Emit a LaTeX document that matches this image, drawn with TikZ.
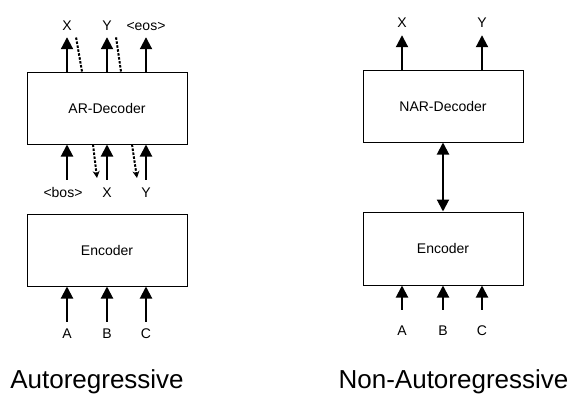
\documentclass[tikz,border=0pt]{standalone}
\usepackage{fontspec}
\setmainfont{Liberation Sans}
\usetikzlibrary{arrows.meta}
\begin{document}
\begin{tikzpicture}[x=1pt,y=-1pt,
 box/.style={draw, line width=1pt, minimum width=160pt, minimum height=72pt, inner sep=0pt, font=\fontsize{14}{16}\selectfont},
 lbl/.style={inner sep=0pt, anchor=base, text height=10pt, text depth=3pt, font=\fontsize{14}{16}\selectfont},
 titletext/.style={inner sep=0pt, anchor=base, font=\fontsize{26}{30}\selectfont},
 arr/.style={line width=2pt, -{Triangle[width=12pt,length=12pt]}},
 darr/.style={line width=2pt, {Triangle[width=12pt,length=12pt]}-{Triangle[width=12pt,length=12pt]}},
 dotline/.style={line width=2pt, dash pattern=on 2.5pt off 1.5pt},
 dotarr/.style={dotline, -{Stealth[length=7pt,width=7pt]}}
]
\useasboundingbox (0,0) rectangle (579,400);

% ---------- Autoregressive ----------
\node[box] (ardec) at (107,108) {AR-Decoder};
\node[box] (arenc) at (107,250) {Encoder};

\node[lbl] (ox) at (67,30) {X};
\node[lbl] (oy) at (107,30) {Y};
\node[lbl] (oeos) at (146,30) {<eos>};
\draw[arr, shorten >=4pt] (ox |- ardec.north) -- (ox.south);
\draw[arr, shorten >=4pt] (oy |- ardec.north) -- (oy.south);
\draw[arr, shorten >=4pt] (oeos |- ardec.north) -- (oeos.south);

\coordinate (dt1) at (76,37);
\coordinate (dt2) at (116,37);
\draw[dotline] ([xshift=-25pt]ardec.north) -- (dt1);
\draw[dotline] ([xshift=14pt]ardec.north) -- (dt2);

\node[lbl] (ibos) at (63,197) {<bos>};
\node[lbl] (ix) at (107,197) {X};
\node[lbl] (iy) at (146,197) {Y};
\draw[arr, shorten <=7pt] ([xshift=4pt]ibos.north) -- ([xshift=4pt]ibos.north |- ardec.south);
\draw[arr, shorten <=7pt] (ix.north) -- (ix.north |- ardec.south);
\draw[arr, shorten <=7pt] (iy.north) -- (iy.north |- ardec.south);

\coordinate (db1) at (97,178);
\coordinate (db2) at (137,178);
\draw[dotarr] ([xshift=-14pt]ardec.south) -- (db1);
\draw[dotarr] ([xshift=25pt]ardec.south) -- (db2);

\node[lbl] (la) at (67,338) {A};
\node[lbl] (lb) at (107,338) {B};
\node[lbl] (lc) at (146,338) {C};
\draw[arr, shorten <=6pt] (la.north) -- (la.north |- arenc.south);
\draw[arr, shorten <=6pt] (lb.north) -- (lb.north |- arenc.south);
\draw[arr, shorten <=6pt] (lc.north) -- (lc.north |- arenc.south);

\node[titletext] (tar) at (97,388) {Autoregressive};

% ---------- Non-Autoregressive ----------
\node[box] (nardec) at (443,106) {NAR-Decoder};
\node[box, minimum height=73pt] (narenc) at (443,248.5) {Encoder};

\node[lbl] (nx) at (402,27) {X};
\node[lbl] (ny) at (482,27) {Y};
\draw[arr, shorten >=5pt] (nx |- nardec.north) -- (nx.south);
\draw[arr, shorten >=5pt] (ny |- nardec.north) -- (ny.south);

\draw[darr] (nardec.south) -- (narenc.north);

\node[lbl] (ra) at (402,335) {A};
\node[lbl] (rb) at (443,335) {B};
\node[lbl] (rc) at (482,335) {C};
\draw[arr, shorten <=15pt] (ra.north) -- (ra.north |- narenc.south);
\draw[arr, shorten <=15pt] (rb.north) -- (rb.north |- narenc.south);
\draw[arr, shorten <=15pt] (rc.north) -- (rc.north |- narenc.south);

\node[titletext] (tnar) at (453.5,388) {Non-Autoregressive};
\end{tikzpicture}
\end{document}
